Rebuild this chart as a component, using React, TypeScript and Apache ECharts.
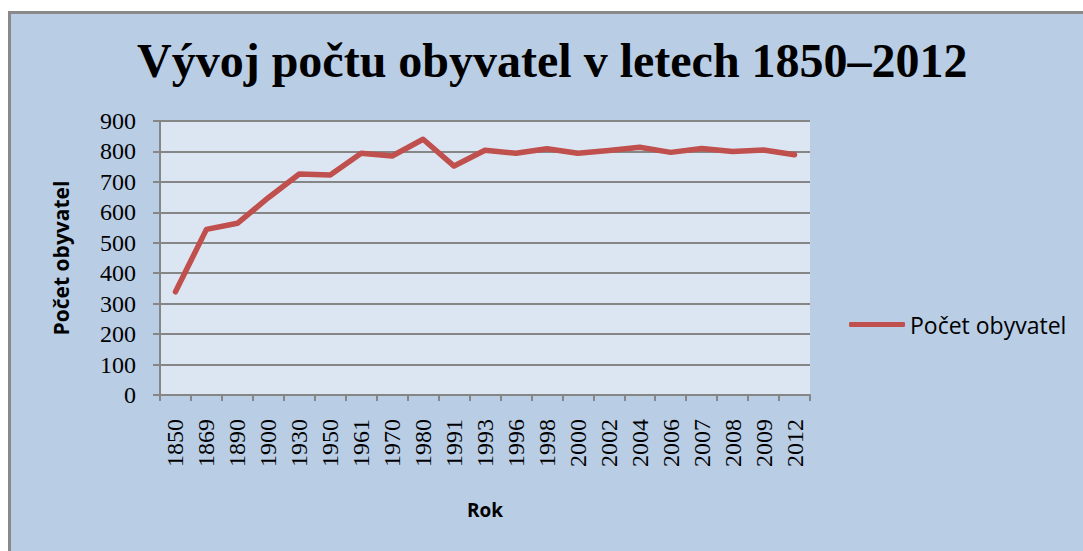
import React, { useEffect, useRef } from "react";
import * as echarts from "echarts";

const years = ["1850","1869","1890","1900","1930","1950","1961","1970","1980","1991","1993","1996","1998","2000","2002","2004","2006","2007","2008","2009","2012"];
const population = [339,544,564,648,726,723,794,785,840,752,804,794,809,794,803,814,797,810,800,805,789];
const yTicks = { min: 0, max: 900, interval: 100 };
const titleText = "Vývoj počtu obyvatel v letech 1850–2012";
const seriesName = "Počet obyvatel";
const xName = "Rok";
const yName = "Počet obyvatel";

export default function App() {
  const ref = useRef<HTMLDivElement>(null);
  useEffect(() => {
    if (!ref.current) return;
    const chart = echarts.init(ref.current, undefined, { renderer: "svg" });
    const serif = "'Liberation Serif', 'Times New Roman', serif";
    const sans = "'Open Sans', 'Noto Sans', sans-serif";
    chart.setOption({
      animation: false,
      backgroundColor: "#ffffff",
      graphic: [
        {
          type: "rect",
          z: -10,
          silent: true,
          shape: { x: 9.5, y: 12.5, width: 1100, height: 600 },
          style: { fill: "#B9CDE5", stroke: "#898989", lineWidth: 3 },
        },
        {
          type: "rect",
          z: -9,
          silent: true,
          shape: { x: 160, y: 120, width: 650, height: 275 },
          style: { fill: "#DCE6F2" },
        },
      ],
      title: {
        text: titleText,
        left: 132,
        top: 31,
        textStyle: { fontFamily: serif, fontWeight: "bold", fontSize: 48, color: "#000" },
      },
      legend: {
        left: 849,
        top: 313,
        padding: 0,
        icon: "roundRect",
        itemWidth: 56,
        itemHeight: 5,
        itemGap: 4,
        textStyle: { fontFamily: sans, fontSize: 23, color: "#000" },
        data: [seriesName],
      },
      grid: { left: 160, right: 273, top: 121, bottom: 156, containLabel: false },
      xAxis: {
        type: "category",
        data: years,
        boundaryGap: true,
        name: xName,
        nameLocation: "middle",
        nameGap: 105,
        nameTextStyle: { fontFamily: sans, fontWeight: "bold", fontSize: 19, color: "#000" },
        axisLine: { lineStyle: { color: "#868686", width: 2 } },
        axisTick: { show: true, length: 6, lineStyle: { color: "#868686", width: 2 } },
        axisLabel: { rotate: 90, interval: 0, margin: 24, fontFamily: serif, fontSize: 24, color: "#000" },
        splitLine: { show: false },
      },
      yAxis: {
        type: "value",
        min: yTicks.min,
        max: yTicks.max,
        interval: yTicks.interval,
        name: yName,
        nameLocation: "middle",
        nameGap: 89,
        nameRotate: 90,
        nameTextStyle: { fontFamily: sans, fontWeight: "bold", fontSize: 21, color: "#000" },
        axisLine: { show: true, lineStyle: { color: "#868686", width: 2 } },
        axisTick: { show: true, length: 7, lineStyle: { color: "#868686", width: 2 } },
        axisLabel: { margin: 24, fontFamily: serif, fontSize: 24, color: "#000" },
        splitLine: { show: true, lineStyle: { color: "#868686", width: 2 } },
      },
      series: [
        {
          name: seriesName,
          type: "line",
          data: population,
          showSymbol: false,
          symbol: "none",
          lineStyle: { color: "#C0504D", width: 5.5, cap: "round", join: "round" },
          itemStyle: { color: "#C0504D" },
        },
      ],
    });
    return () => chart.dispose();
  }, []);
  return (
    <div
      ref={ref}
      style={{ position: "absolute", left: 0, top: 0, width: 1083, height: 551 }}
    />
  );
}
